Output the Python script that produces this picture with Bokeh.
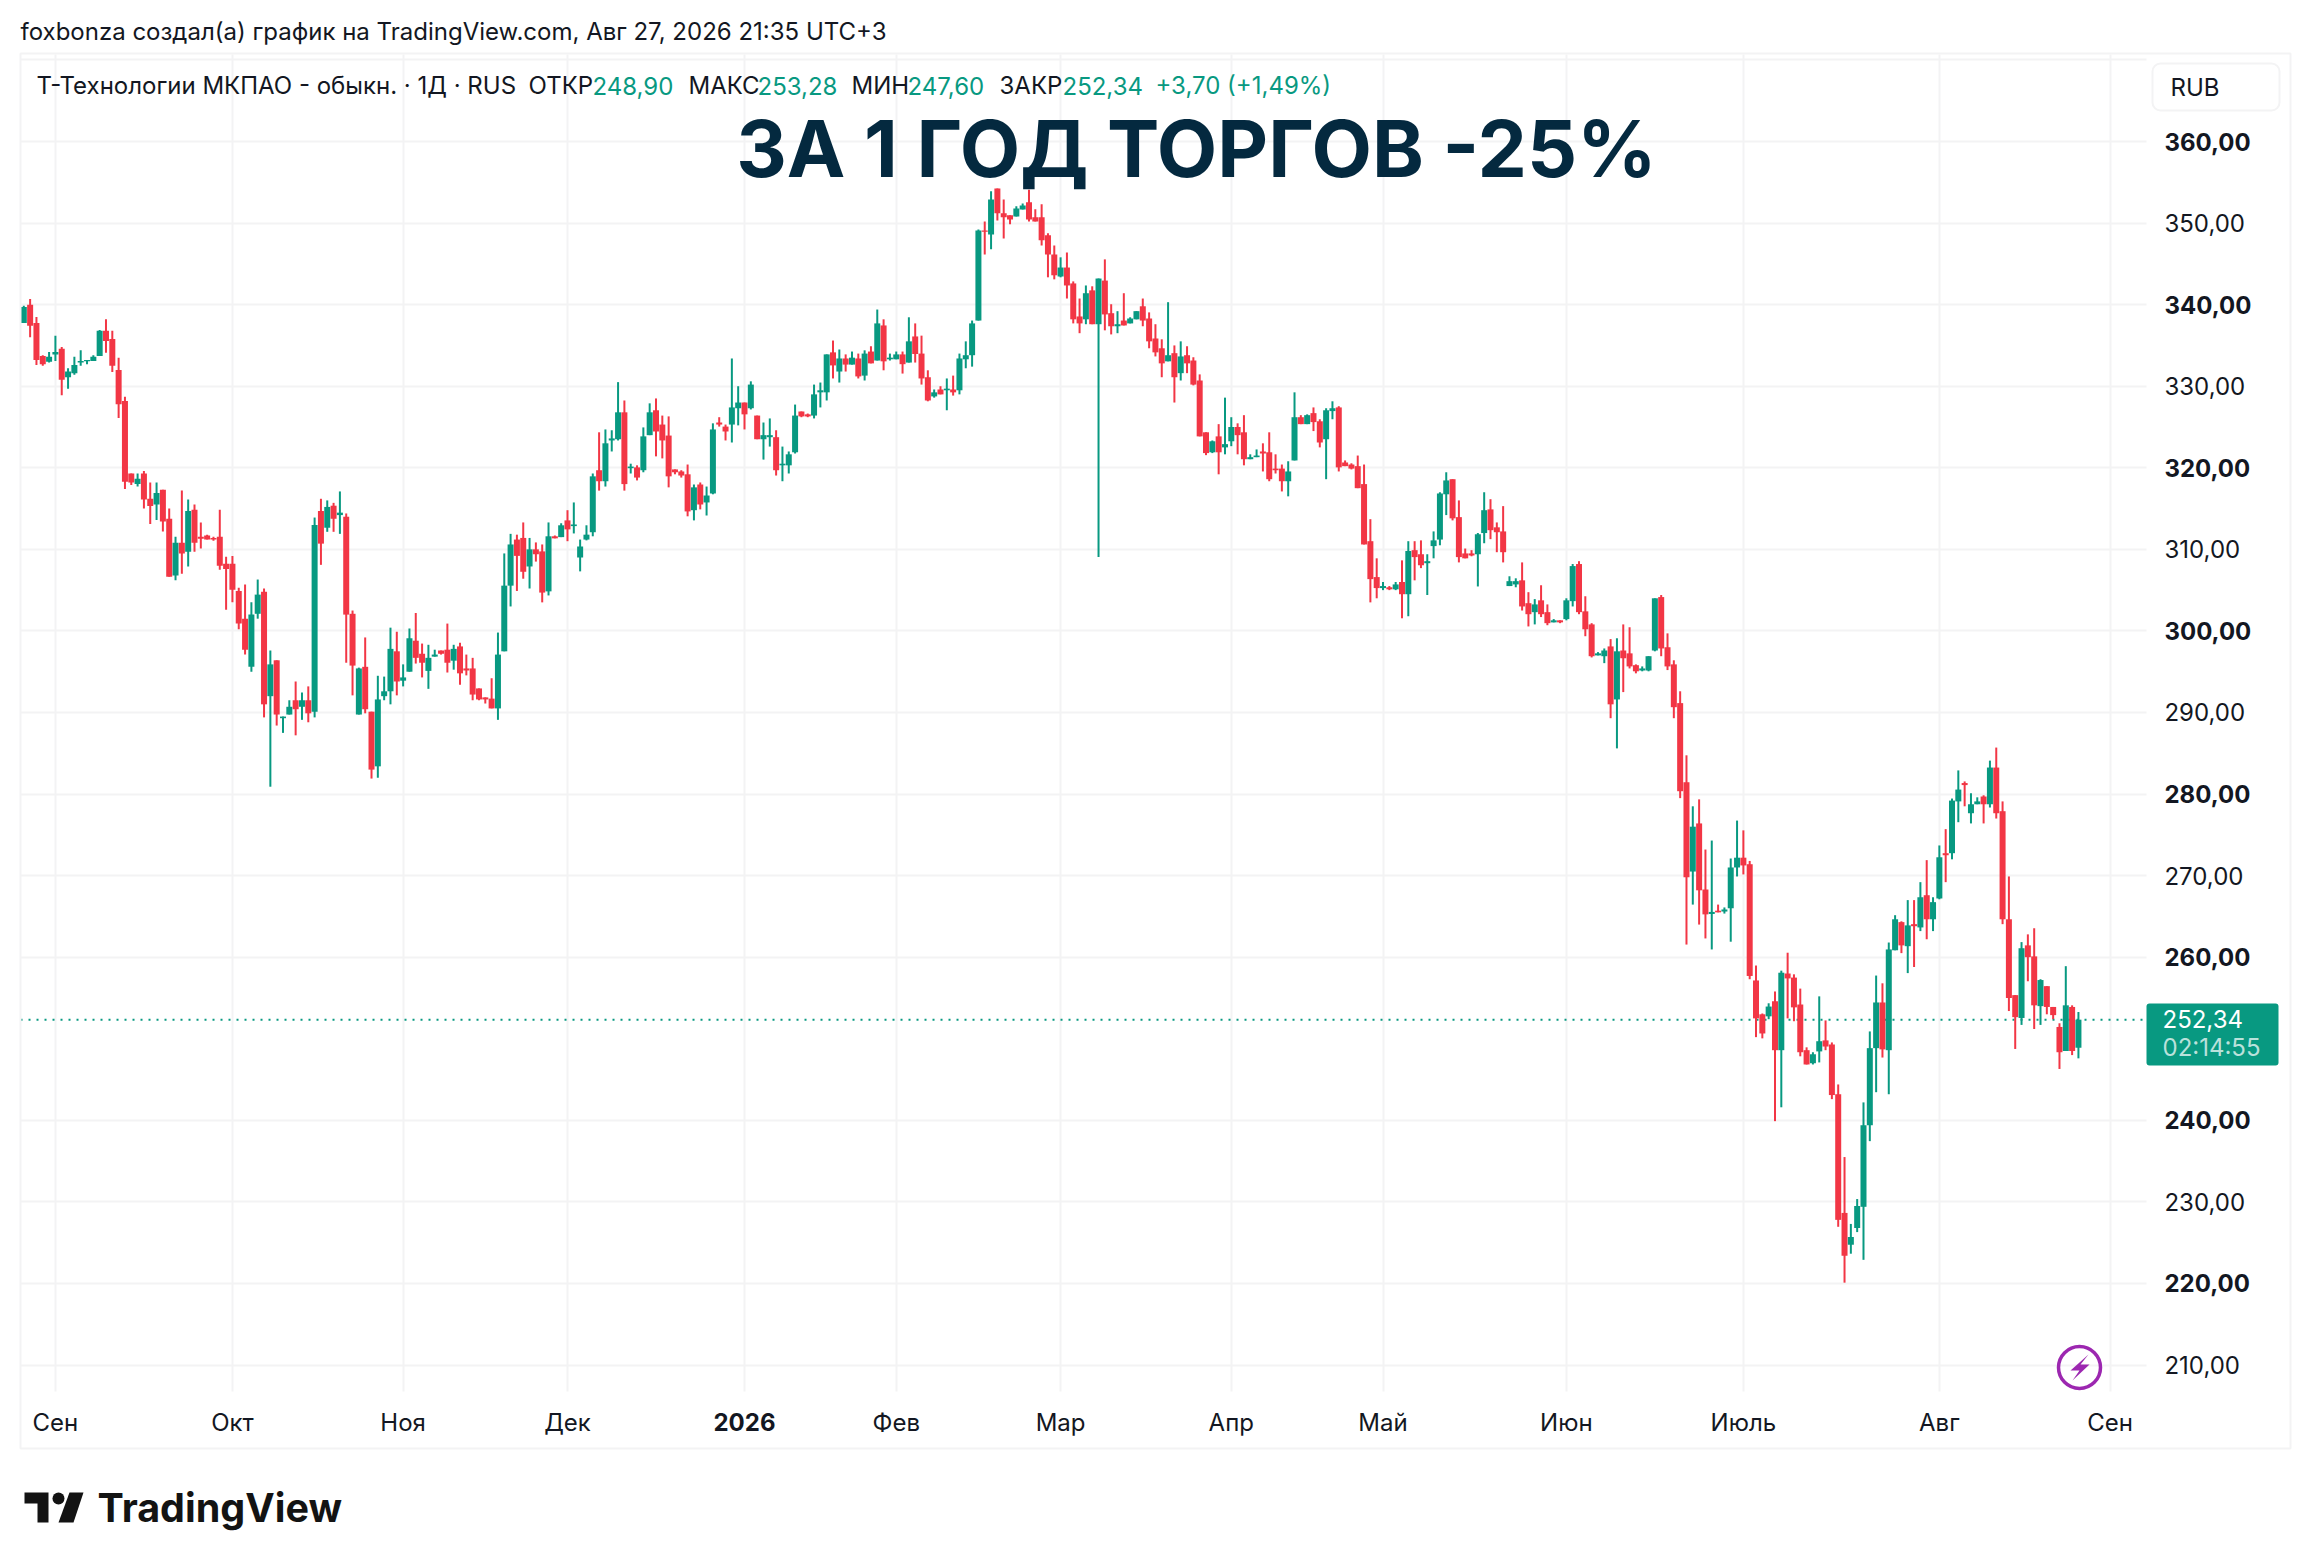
from bokeh.plotting import figure
from bokeh.models import (ColumnDataSource, LinearAxis, FixedTicker, Grid, Label, Range1d,
                          BoxAnnotation, PolyAnnotation)
from bokeh.embed import file_html
from bokeh.resources import INLINE

# ---------------- data: daily bars ----------------
opens = [
337.75,340,337.75,333.7,333.0,333.9,334.6,331.1,331.6,332.9,
333.05,333.1,333.7,336.8,335.8,332.0,328.2,319.3,318.0,319.3,
316.2,315.5,317.3,313.75,306.8,310.8,309.7,314.85,311.55,311.7,
311.4,311.55,308.25,308.25,304.9,301.5,295.6,302.1,304.8,292.0,
296.4,289.3,289.75,291.5,290.7,291.5,290.1,314.7,312.65,315.35,
314.2,314.0,302.1,289.75,295.6,290.1,283.4,292.0,292.6,297.5,
293.9,295.0,298.8,297.2,295.1,296.85,297.6,297.7,296.35,298.1,
295.4,295.4,292.95,291.85,291.7,290.5,297.5,305.55,311.2,311.4,
307.9,310.0,309.75,304.85,311.6,311.5,313.55,312.85,309.0,311.2,
312.1,319.7,318.35,323.35,323.5,326.8,319.95,320.05,319.7,324.0,
327.05,325.3,323.95,319.8,319.55,319.2,314.8,317.95,315.75,316.85,
325.55,325.05,325.3,327.3,328.0,327.3,326.4,323.5,323.75,323.75,
320.3,320.3,321.9,326.9,326.55,326.4,329.25,329.25,334.15,331.8,
333.4,332.65,333.4,331.3,334.25,333.15,337.45,333.3,333.3,333.9,
332.9,336.1,334.0,331.1,328.75,329.6,329.5,329.6,329.5,333.3,
333.8,338.05,349.1,348.6,354.25,351.2,350.95,350.8,351.65,352.55,
350.7,350.7,348.5,346.15,343.45,344.55,342.6,338.55,338.2,341.75,
337.6,342.95,338.95,337.35,338.05,337.7,338.2,339.8,338.3,335.85,
334.65,333.05,334.05,331.6,333.8,333.15,330.7,324.35,321.9,323.85,
322.5,323.25,325.0,324.35,321.05,321.3,322.0,321.9,319.9,319.9,
318.35,320.9,326.2,325.35,326.7,325.7,323.5,326.95,327.4,320.65,
320.4,320.2,318.0,311.0,306.6,305.25,305.35,305.1,306.0,304.5,
309.9,309.4,308.3,310.4,311.2,316.75,318.6,313.95,309.5,309.5,
309.4,312.0,314.9,312.7,312.2,305.5,305.7,306.2,303.4,302.3,
303.75,302.3,301.05,301.3,301.45,303.65,308.2,302.4,300.8,297.0,
296.9,298.1,291.6,297.6,297.25,295.8,295.15,295.15,297.6,304.15,
298.0,295.9,291.15,281.45,270.5,276.4,268.3,265.3,265.7,265.6,
266.0,271.0,272.2,271.4,257.15,253.0,252.75,254.6,248.6,258.0,
257.5,254.2,248.6,247.0,248.45,249.8,249.3,243.2,228.65,224.75,
226.8,229.4,239.4,248.85,254.45,248.6,260.85,264.3,261.35,264.05,
263.65,267.6,264.65,267.2,272.75,272.75,279.1,281.35,277.65,278.75,
279.7,278.75,283.25,277.9,264.65,255.35,252.55,261.45,260.1,254.0,
256.45,253.9,251.45,248.5,253.9,248.9]
highs = [
339.85,340.7,338.5,333.8,334.2,336.2,334.8,332.2,333.6,334.4,
333.2,333.8,336.9,338.2,336.8,333.5,328.7,319.3,319.3,319.6,
318.2,318.2,317.3,315.0,311.55,317.2,316.1,315.5,313.3,311.8,
311.55,314.85,309.1,309.2,305.3,305.7,303.5,306.3,305.2,297.6,
296.4,289.5,291.5,293.8,292.45,293.2,313.9,316.2,316.0,315.7,
317.1,314.4,302.5,295.5,299.2,290.1,294.5,294.4,300.4,299.9,
295.9,300.3,302.2,298.45,298.3,297.7,297.6,300.9,298.3,298.55,
297.1,296.7,292.95,291.85,294.2,299.8,309.5,311.9,311.8,313.3,
311.4,310.85,310.6,313.3,311.7,313.2,314.8,315.75,311.2,312.95,
319.3,324.35,324.7,324.6,330.5,328.25,320.5,320.3,324.95,327.9,
328.5,326.4,326.3,319.8,319.7,320.4,317.95,318.2,317.7,325.45,
326.2,325.3,333.4,330.0,328.0,330.6,326.4,325.55,326.05,324.6,
322.6,322.0,327.75,326.9,326.65,330.2,330.45,333.9,335.6,334.5,
333.9,334.25,334.0,334.4,334.9,339.4,338.2,334.0,334.25,334.25,
338.45,337.7,336.2,331.95,329.6,330.0,330.95,331.3,334.0,335.5,
338.05,349.2,350.2,353.9,354.25,352.9,350.95,352.05,352.4,354.1,
351.7,352.3,348.75,347.25,345.8,346.4,342.85,340.75,342.35,342.25,
343.2,345.55,340.05,339.2,341.4,338.45,339.2,340.75,339.05,337.6,
335.75,340.3,335.0,335.5,334.9,333.55,331.45,324.35,323.35,325.35,
328.6,326.2,325.45,326.45,321.65,322.25,323.0,324.35,321.65,320.4,
320.8,329.25,326.45,326.55,327.4,325.95,327.3,328.15,327.55,320.9,
320.55,321.5,320.4,313.7,308.9,306.0,305.5,306.0,308.65,311.0,
311.0,311.1,309.4,312.2,317.0,319.45,318.6,316.0,310.1,309.9,
312.0,317.0,316.15,313.3,315.3,306.7,306.45,308.4,304.75,303.9,
305.6,303.25,301.45,301.3,304.0,308.2,308.55,304.25,300.95,297.4,
297.85,299.0,299.1,300.8,300.45,295.9,295.65,296.9,304.0,304.4,
299.7,296.4,292.6,284.75,278.5,279.35,273.2,274.3,266.45,266.1,
272.1,276.75,275.55,271.8,258.98,253.1,254.35,255.8,258.35,260.55,
257.9,256.15,248.95,248.35,255.2,252.25,249.55,244.4,235.5,227.3,
230.35,242.2,250.9,257.75,256.8,261.8,265.15,264.4,267.0,267.0,
269.2,271.9,267.35,273.7,275.7,279.45,282.9,281.55,280.1,279.6,
279.85,284.1,285.7,279.1,269.9,255.35,261.85,262.8,263.55,257.3,
256.45,253.9,251.9,258.9,254.1,253.28]
lows = [
337.75,336,332.6,332.5,332.9,333.1,328.9,329.7,331.4,332.5,
332.7,333.1,333.7,334.1,331.75,326.1,317.4,317.9,317.7,315.0,
313.1,313.6,312.2,306.65,306.2,307.0,307.9,309.7,310.1,311.2,
311.05,307.5,302.6,303.5,300.2,297.1,295.0,301.5,289.4,280.9,
288.4,287.5,289.75,287.2,289.1,288.8,289.4,308.1,312.15,312.15,
311.9,296.1,292.1,289.75,289.9,281.9,282.0,291.5,291.0,292.1,
293.2,295.0,296.0,294.3,292.9,296.85,297.1,294.9,295.25,293.4,
294.55,291.5,291.5,291.1,290.5,289.1,297.5,303.0,304.9,306.4,
305.2,308.5,303.5,304.35,311.35,311.5,311.0,311.95,307.3,311.1,
311.6,317.2,317.7,322.0,323.35,317.2,319.3,318.45,319.45,324.0,
321.4,321.15,317.6,319.2,318.8,314.05,313.55,314.9,314.15,316.75,
325.05,323.35,323.1,325.2,324.7,327.15,323.5,321.0,322.6,319.05,
318.35,319.3,321.75,326.2,326.2,326.05,327.4,328.25,330.95,330.45,
331.8,332.65,330.95,330.7,332.8,333.15,331.95,333.15,333.3,331.55,
332.9,332.9,330.2,328.15,328.6,329.0,327.05,328.85,329.0,332.2,
332.4,338.05,346.15,346.8,350.3,348.1,349.85,350.8,351.65,350.2,
350.2,347.25,343.35,343.1,343.35,340.75,337.7,336.5,337.6,337.6,
309.05,336.85,336.35,336.5,337.45,337.7,338.2,337.35,334.65,333.65,
331.1,333.05,328.0,330.7,331.6,330.1,323.85,321.55,321.8,319.2,
321.65,322.65,321.65,320.3,321.05,321.3,319.55,318.35,319.3,317.1,
316.5,320.9,325.35,325.35,324.5,322.5,318.6,325.95,319.55,320.2,
319.8,317.5,310.6,303.5,304.0,305.0,305.0,305.0,301.55,301.8,
306.2,307.7,304.4,308.9,310.5,314.2,313.55,308.4,308.9,309.15,
305.45,310.75,311.25,309.65,308.4,305.5,305.35,302.5,300.55,300.8,
301.7,300.7,301.05,300.95,301.3,303.0,302.05,299.35,296.75,297.0,
296.05,289.3,285.6,292.5,295.4,294.8,295.05,295.05,297.5,296.9,
295.2,289.3,279.5,261.55,266.45,264.0,262.3,260.95,265.5,265.35,
261.9,269.9,270.15,257.3,250.2,250.05,252.4,239.9,241.6,252.5,
252.15,247.85,246.85,246.85,247.1,248.6,242.6,226.95,220.1,223.65,
226.3,222.9,237.45,243.45,247.7,243.2,260.85,260.5,258.05,258.8,
263.2,262.2,263.2,267.1,269.2,272.0,276.55,278.5,276.4,278.75,
276.4,278.35,277.0,264.05,253.4,248.75,251.7,257.05,251.2,251.7,
253.0,252.4,246.3,248.5,248.0,247.6]
closes = [
339.7,337.4,333.2,332.7,333.6,334.2,330.8,331.8,332.6,333.1,
333.2,333.6,336.8,335.55,332.5,327.8,318.3,318.2,318.65,316.1,
315.3,316.9,313.4,306.65,310.8,309.5,314.7,310.8,311.3,311.2,
311.2,308.0,307.6,305.05,300.9,297.7,302.0,304.45,291.0,295.9,
289.75,289.5,290.7,290.4,291.5,289.9,313.0,310.7,315.2,313.75,
314.5,302.0,295.75,295.4,290.4,283.0,291.6,292.6,297.8,293.8,
294.3,299.1,296.7,296.1,296.7,297.1,297.2,296.1,297.8,294.8,
295.15,292.2,291.6,291.6,290.5,297.1,305.55,310.6,309.2,307.25,
310.0,309.4,304.7,311.6,311.35,312.95,312.45,313.05,310.35,311.8,
318.95,318.35,323.0,323.6,326.8,318.0,320.15,318.8,323.85,326.8,
324.45,323.35,318.95,319.45,319.05,314.65,317.6,315.5,316.6,324.7,
325.3,324.45,327.4,328.0,326.55,330.2,323.5,324.0,324.0,319.7,
320.5,321.65,326.4,326.3,326.3,329.0,329.5,333.9,332.55,333.4,
332.65,333.5,331.2,334.0,332.8,337.7,333.05,333.5,333.9,332.7,
335.5,333.95,330.95,328.25,329.25,329.0,329.7,329.25,333.4,333.8,
337.7,349.1,348.95,352.9,351.2,350.7,350.45,351.8,352.15,350.45,
350.2,347.9,346.15,343.6,344.55,342.35,338.2,337.7,341.4,337.6,
343.2,338.8,337.35,337.6,337.45,338.3,339.2,338.05,335.5,334.15,
332.8,333.8,331.1,333.65,332.8,330.2,323.85,321.8,323.25,321.9,
322.9,325.0,324.0,321.05,321.3,321.5,321.75,318.6,319.7,318.35,
319.55,326.2,325.35,326.45,325.6,323.1,327.05,327.3,320.05,320.2,
319.9,317.5,310.6,306.35,305.25,305.5,305.1,305.7,304.5,309.8,
309.05,308.05,308.55,311.1,316.85,318.45,313.8,309.05,308.9,309.25,
311.85,314.8,312.35,312.1,309.65,306.1,306.1,303.0,302.05,303.25,
302.05,300.95,301.3,301.05,303.75,307.95,302.3,300.2,296.9,297.25,
297.6,291.0,297.5,296.65,295.65,295.05,295.4,296.9,304.0,297.85,
295.65,290.65,280.35,269.8,276.0,268.2,265.25,265.55,265.5,265.85,
271.0,272.2,271.25,257.7,252.5,250.65,253.95,248.6,258.1,257.4,
253.85,248.35,246.85,248.1,249.7,249.05,243.1,227.8,223.4,225.7,
229.5,239.4,248.85,254.45,248.7,260.95,264.65,261.45,263.9,263.8,
267.35,264.65,266.75,272.25,272.5,279.2,280.55,281.1,278.75,279.1,
278.75,283.25,277.65,264.65,255.0,252.65,261.1,260.0,254.1,257.2,
253.9,252.9,248.35,254.1,248.5,252.34]

month_positions = [5, 33, 60, 86, 138, 164, 191, 215, 244, 272, 303, 330]
month_labels = ["Сен", "Окт", "Ноя", "Дек", "Фев", "Мар", "Апр", "Май", "Июн", "Июль", "Авг", "Сен"]
year_position = [114]
year_label = ["2026"]
regular_prices = [350, 330, 310, 290, 270, 230, 210]
bold_prices = [360, 340, 320, 300, 280, 260, 240, 220]
last_price = 252.34

GREEN, RED = "#089981", "#F23645"
INK = "#131722"
GRID = "#f3f3f4"
FONT = "Inter"

# chart pane limits on the scales
X_LEFT, X_RIGHT = -0.52, 335.76
Y_BOTTOM, Y_TOP = 206.76, 370.67

def price_text(v):
    return f"{v},00"

W, H = 2292, 1552
p = figure(width=W, height=H, output_backend="svg", toolbar_location=None,
           x_axis_location=None, y_axis_location=None, tools="",
           x_range=Range1d(-3.686, 358.86), y_range=Range1d(187.02, 377.286),
           min_border_left=0, min_border_right=0, min_border_top=0, min_border_bottom=0,
           background_fill_color="white", border_fill_color="white", outline_line_color=None)
p.grid.visible = False

# grid
vticks = month_positions + year_position
hticks = regular_prices + bold_prices + [370]
if "cross_bounds" in Grid.properties():
    p.add_layout(Grid(dimension=0, ticker=FixedTicker(ticks=vticks), cross_bounds=(Y_BOTTOM, Y_TOP),
                      grid_line_color=GRID, grid_line_width=2))
    p.add_layout(Grid(dimension=1, ticker=FixedTicker(ticks=hticks), cross_bounds=(X_LEFT, X_RIGHT),
                      grid_line_color=GRID, grid_line_width=2))
else:
    p.segment(vticks, [Y_BOTTOM] * len(vticks), vticks, [Y_TOP] * len(vticks), line_color=GRID, line_width=2)
    p.segment([X_LEFT] * len(hticks), hticks, [X_RIGHT] * len(hticks), hticks, line_color=GRID, line_width=2)

def axis(ticks, labels, style, standoff, location):
    return LinearAxis(ticker=FixedTicker(ticks=ticks), fixed_location=location,
                      major_label_overrides=dict(zip(ticks, labels)),
                      axis_line_color=None, major_tick_line_color=None, minor_tick_line_color=None,
                      major_label_standoff=standoff, major_label_text_font=FONT,
                      major_label_text_font_size="24px", major_label_text_color=INK,
                      major_label_text_font_style=style)

p.add_layout(axis(bold_prices, [price_text(v) for v in bold_prices], "bold", 12, X_RIGHT), "right")
p.add_layout(axis(regular_prices, [price_text(v) for v in regular_prices], "normal", 12, X_RIGHT), "right")
p.add_layout(axis(month_positions, month_labels, "normal", 11, Y_BOTTOM), "below")
p.add_layout(axis(year_position, year_label, "bold", 16, Y_BOTTOM), "below")

# last price line
p.segment([X_LEFT], [last_price], [X_RIGHT], [last_price], line_color=GREEN, line_width=2, line_dash="2 6")

# candles
idx = list(range(len(opens)))
colors = [GREEN if c >= o else RED for o, c in zip(opens, closes)]
src = ColumnDataSource(dict(x=idx, o=opens, h=highs, l=lows, c=closes,
                            top=[max(a, b) for a, b in zip(opens, closes)],
                            bot=[min(a, b) for a, b in zip(opens, closes)], col=colors))
p.segment("x", "h", "x", "l", source=src, line_color="col", line_width=2)
p.vbar(x="x", top="top", bottom="bot", width=0.95, source=src, fill_color="col", line_color=None)

# page furniture, given in page pixels
def text(x, y, s, size=24, color=INK, style="normal", align="left", alpha=1.0):
    p.add_layout(Label(x=x, y=y, x_units="canvas", y_units="canvas", text=s,
                       text_font=FONT, text_font_size=f"{size}px", text_color=color,
                       text_font_style=style, text_align=align, text_baseline="middle",
                       text_alpha=alpha))

def box(l, t, r, b, fill=None, line=None, lw=2, radius=0):
    p.add_layout(BoxAnnotation(left=l, right=r, top=t, bottom=b,
                               left_units="canvas", right_units="canvas", top_units="canvas",
                               bottom_units="canvas", fill_color=fill, fill_alpha=1 if fill else 0,
                               line_color=line, line_alpha=1, line_width=lw, border_radius=radius,
                               level="annotation"))

def poly(pts, fill):
    p.add_layout(PolyAnnotation(xs=[a for a, _ in pts], ys=[b for _, b in pts],
                                xs_units="canvas", ys_units="canvas",
                                fill_color=fill, fill_alpha=1, line_color=None, level="annotation"))

box(20, 53, 2290, 1448, line=GRID, lw=2)
text(20, 31, "foxbonza создал(а) график на TradingView.com, Авг 27, 2026 21:35 UTC+3", size=24)

text(36, 85, "Т-Технологии МКПАО - обыкн. · 1Д · RUS")
for x, lab in [(528, "ОТКР"), (688, "МАКС"), (851, "МИН"), (999, "ЗАКР")]:
    text(x, 85, lab)
for x, val in [(592, "248,90"), (757, "253,28"), (907, "247,60"), (1062, "252,34"),
               (1155, "+3,70 (+1,49%)")]:
    text(x, 85, val, color=GREEN)

text(1196, 148, "ЗА 1 ГОД ТОРГОВ -25%", size=78.5, color="#04293F", style="bold", align="center")

box(2152, 63, 2279, 110, line=GRID, lw=2, radius=8)
text(2170, 87, "RUB")

box(2146, 1003, 2278, 1065, fill=GREEN, radius=3)
text(2162, 1018, "252,34", color="white")
text(2162, 1047, "02:14:55", color="white", alpha=0.72)

# flash badge
box(2058, 1346, 2100, 1388, line="#9C27B0", lw=3.5, radius=21)
poly([(2088, 1354), (2070, 1370), (2079, 1370), (2072, 1380), (2089, 1364), (2080, 1364)], "#9C27B0")

# TradingView logo
poly([(24, 1492), (48, 1492), (48, 1522), (37, 1522), (37, 1503), (24, 1503)], "#131313")
poly([(69, 1492), (83, 1492), (73, 1522), (58, 1522)], "#131313")
box(52, 1492, 64, 1504, fill="#131313", radius=6)
text(97, 1507, "TradingView", size=39.5, color="#131313", style="bold")

open("out.html", "w").write(file_html(p, INLINE))
